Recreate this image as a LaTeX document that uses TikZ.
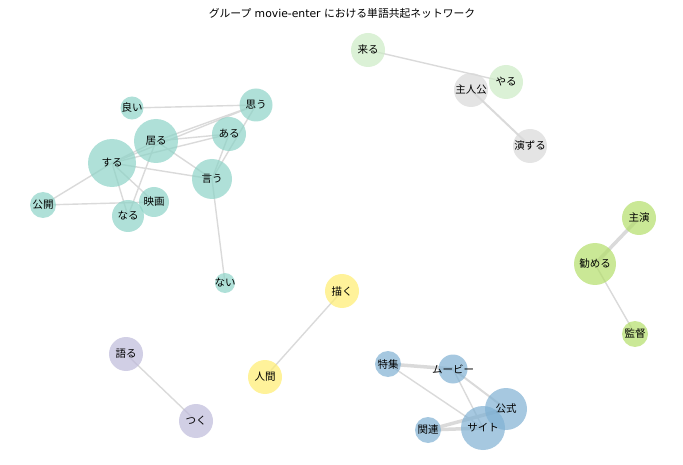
\documentclass[tikz,border=0pt]{standalone}
\usepackage{fontspec}
\setmainfont{DejaVu Sans}
\newfontfamily\jp{Noto Sans CJK JP}
\definecolor{cteal}{HTML}{8DD3C7}
\definecolor{cgreen}{HTML}{CCEBC5}
\definecolor{cgray}{HTML}{D9D9D9}
\definecolor{clime}{HTML}{B3DE69}
\definecolor{cyellow}{HTML}{FFED6F}
\definecolor{cpurple}{HTML}{BEBADA}
\definecolor{cblue}{HTML}{80B1D3}
\definecolor{cedge}{HTML}{DADADA}
\tikzset{
  word/.style={circle, fill opacity=0.7, text opacity=1, inner sep=0pt,
    font=\jp\fontsize{10.5}{12}\selectfont, minimum size=2*#1 pt},
  word/.default=17,
  link/.style={draw=cedge, line width=1.4pt},
  strong/.style={draw=cedge, line width=3.5pt}
}
\begin{document}
\begin{tikzpicture}[x=1pt,y=-1pt]
  \useasboundingbox (0,0) rectangle (683,465);
  \node (title) at (342,13) {\fontsize{10.8}{12}\selectfont{\jp グループ} movie-enter {\jp における単語共起ネットワーク}};
  % coordinates only, nodes drawn on top later
  \coordinate (suru) at (112,163); \coordinate (iru) at (156,141);
  \coordinate (iu) at (212,179); \coordinate (aru) at (229,134);
  \coordinate (omou) at (256,105); \coordinate (yoi) at (132,108);
  \coordinate (koukai) at (43,205); \coordinate (naru) at (128,216);
  \coordinate (eiga) at (154,202); \coordinate (nai) at (225,283);
  \coordinate (kuru) at (368,50); \coordinate (yaru) at (506,82);
  \coordinate (shujin) at (471,90); \coordinate (enzuru) at (530,146);
  \coordinate (shuen) at (639,218); \coordinate (tsutome) at (595,264);
  \coordinate (kantoku) at (635,334);
  \coordinate (egaku) at (342,291); \coordinate (ningen) at (265,377);
  \coordinate (kataru) at (126,354); \coordinate (tsuku) at (196,421);
  \coordinate (tokushu) at (388,364); \coordinate (movie) at (453,369);
  \coordinate (koushiki) at (506,409); \coordinate (site) at (483,428);
  \coordinate (kanren) at (428,430);
  % links
  \draw[link] (yoi) -- (omou); \draw[link] (iru) -- (omou);
  \draw[link] (suru) -- (omou); \draw[link] (iu) -- (omou);
  \draw[link] (aru) -- (iru); \draw[link] (aru) -- (suru);
  \draw[link] (aru) -- (iu); \draw[link] (suru) -- (iru);
  \draw[link] (suru) -- (iu); \draw[link] (iru) -- (iu);
  \draw[link] (suru) -- (koukai); \draw[link] (koukai) -- (eiga);
  \draw[link] (suru) -- (naru); \draw[link] (suru) -- (eiga);
  \draw[link] (iru) -- (naru); \draw[link] (iu) -- (nai);
  \draw[link] (kuru) -- (yaru); \draw[link, line width=2pt] (shujin) -- (enzuru);
  \draw[strong] (shuen) -- (tsutome); \draw[link] (tsutome) -- (kantoku);
  \draw[link] (egaku) -- (ningen); \draw[link] (kataru) -- (tsuku);
  \draw[strong] (tokushu) -- (movie); \draw[link] (tokushu) -- (site);
  \draw[link] (movie) -- (site); \draw[link, line width=2pt] (movie) -- (koushiki);
  \draw[strong] (kanren) -- (site); \draw[strong] (kanren) -- (koushiki);
  % words
  \node[word=24, fill=cteal] (nsuru) at (suru) {する};
  \node[word=22, fill=cteal] (niru) at (iru) {居る};
  \node[word=20, fill=cteal] (niu) at (iu) {言う};
  \node[word, fill=cteal] (naru2) at (aru) {ある};
  \node[word=16.5, fill=cteal] (nomou) at (omou) {思う};
  \node[word=10.5, fill=cteal] (nyoi) at (yoi) {良い};
  \node[word=13, fill=cteal] (nkoukai) at (koukai) {公開};
  \node[word=16, fill=cteal] (nnaru) at (naru) {なる};
  \node[word=15, fill=cteal] (neiga) at (eiga) {映画};
  \node[word=10, fill=cteal] (nnai) at (nai) {\makebox[0pt]{ない}};
  \node[word, fill=cgreen] (nkuru) at (kuru) {来る};
  \node[word, fill=cgray] (nshujin) at (shujin) {\makebox[0pt]{主人公}};
  \node[word, fill=cgreen] (nyaru) at (yaru) {やる};
  \node[word, fill=cgray] (nenzuru) at (enzuru) {\makebox[0pt]{演ずる}};
  \node[word, fill=clime] (nshuen) at (shuen) {主演};
  \node[word=21, fill=clime] (ntsutome) at (tsutome) {勧める};
  \node[word=13, fill=clime] (nkantoku) at (kantoku) {監督};
  \node[word, fill=cyellow] (negaku) at (egaku) {描く};
  \node[word, fill=cyellow] (nningen) at (ningen) {人間};
  \node[word, fill=cpurple] (nkataru) at (kataru) {語る};
  \node[word, fill=cpurple] (ntsuku) at (tsuku) {つく};
  \node[word=13, fill=cblue] (ntokushu) at (tokushu) {特集};
  \node[word=21, fill=cblue] (nkoushiki) at (koushiki) {公式};
  \node[word=22, fill=cblue] (nsite) at (site) {サイト};
  \node[word=14.5, fill=cblue] (nmovie) at (movie) {\makebox[0pt]{ムービー}};
  \node[word=13, fill=cblue] (nkanren) at (kanren) {関連};
\end{tikzpicture}
\end{document}
